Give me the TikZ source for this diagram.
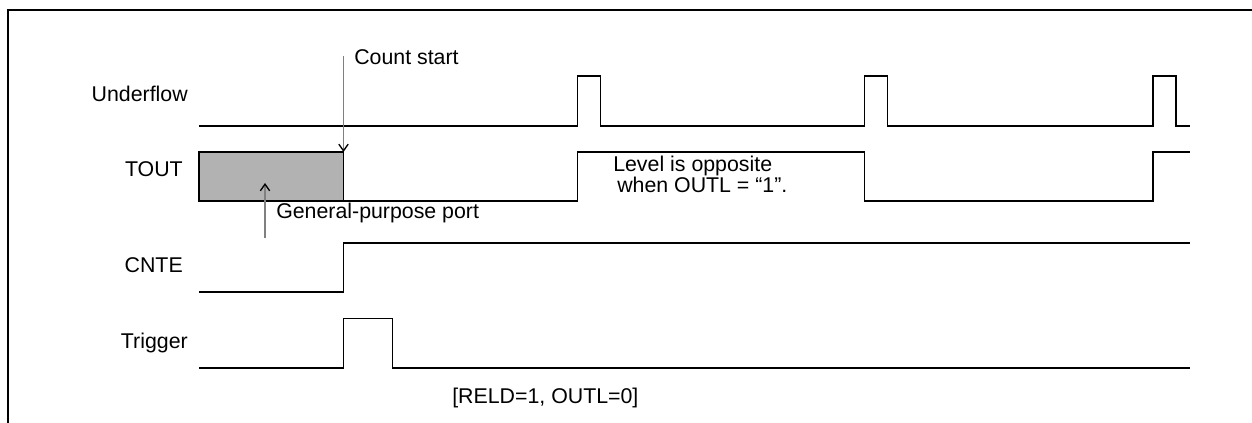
\documentclass[tikz,border=0pt]{standalone}
\usepackage{fontspec}
\setmainfont{Liberation Sans}
\usepackage{tikz}
\usetikzlibrary{arrows.meta, positioning}

\begin{document}
\begin{tikzpicture}[x=0.75pt, y=-0.75pt,
    wave/.style={line width=0.9pt},
    signame/.style={anchor=base east, inner sep=0pt, font=\fontsize{16}{19}\selectfont},
    note/.style={anchor=base west, inner sep=0pt, font=\fontsize{16}{19}\selectfont},
    pointer/.style={draw=gray, line width=1pt, -{Straight Barb[color=black, length=5pt, width=7pt]}}]
        \useasboundingbox (0,0) rectangle (1252,423);
        \draw[line width=1.6pt] (8,430) -- (8,10) -- (1260,10);

        % signal names
        \node[signame] (uf) at (188,102) {Underflow};
        \node[signame] (tout) at (183,177) {TOUT};
        \node[signame] (cnte) at (183,273) {CNTE};
        \node[signame] (trg) at (188,349) {Trigger};

        % waveforms
        \draw[wave] (199,126) \foreach \x in {577.5,864.5,1153}
            { -- (\x,126) -- (\x,76) -- (\x+23,76) -- (\x+23,126) } -- (1190,126);
        \filldraw[wave, fill=gray!60] (199,152) rectangle (343.5,201);
        \draw[wave] (343.5,201) -- (577.5,201) -- (577.5,152) -- (864.5,152)
            -- (864.5,201) -- (1153,201) -- (1153,152) -- (1190,152);
        \draw[wave] (199,292) -- (343.5,292) -- (343.5,243) -- (1190,243);
        \draw[wave] (199,368) -- (343.5,368) -- (343.5,318.5) -- (392.5,318.5)
            -- (392.5,368) -- (1190,368);

        % notes
        \coordinate (cstop) at (343.5,56);
        \coordinate (cs) at (343.5,152);
        \draw[pointer] (cstop) -- (cs);
        \node[note] (cslbl) at (354,65) {Count start};

        \coordinate (gpbot) at (265,238);
        \coordinate (gp) at (265,183);
        \draw[pointer] (gpbot) -- (gp);
        \node[note] (gplbl) at (276,219) {General-purpose port};

        \node[note] (lvl1) at (613,172) {Level is opposite};
        \node[note] (lvl2) at (617,193) {when OUTL = “1”.};

        \node[note] (mode) at (452,404) {[RELD=1, OUTL=0]};
    \end{tikzpicture}
\end{document}
